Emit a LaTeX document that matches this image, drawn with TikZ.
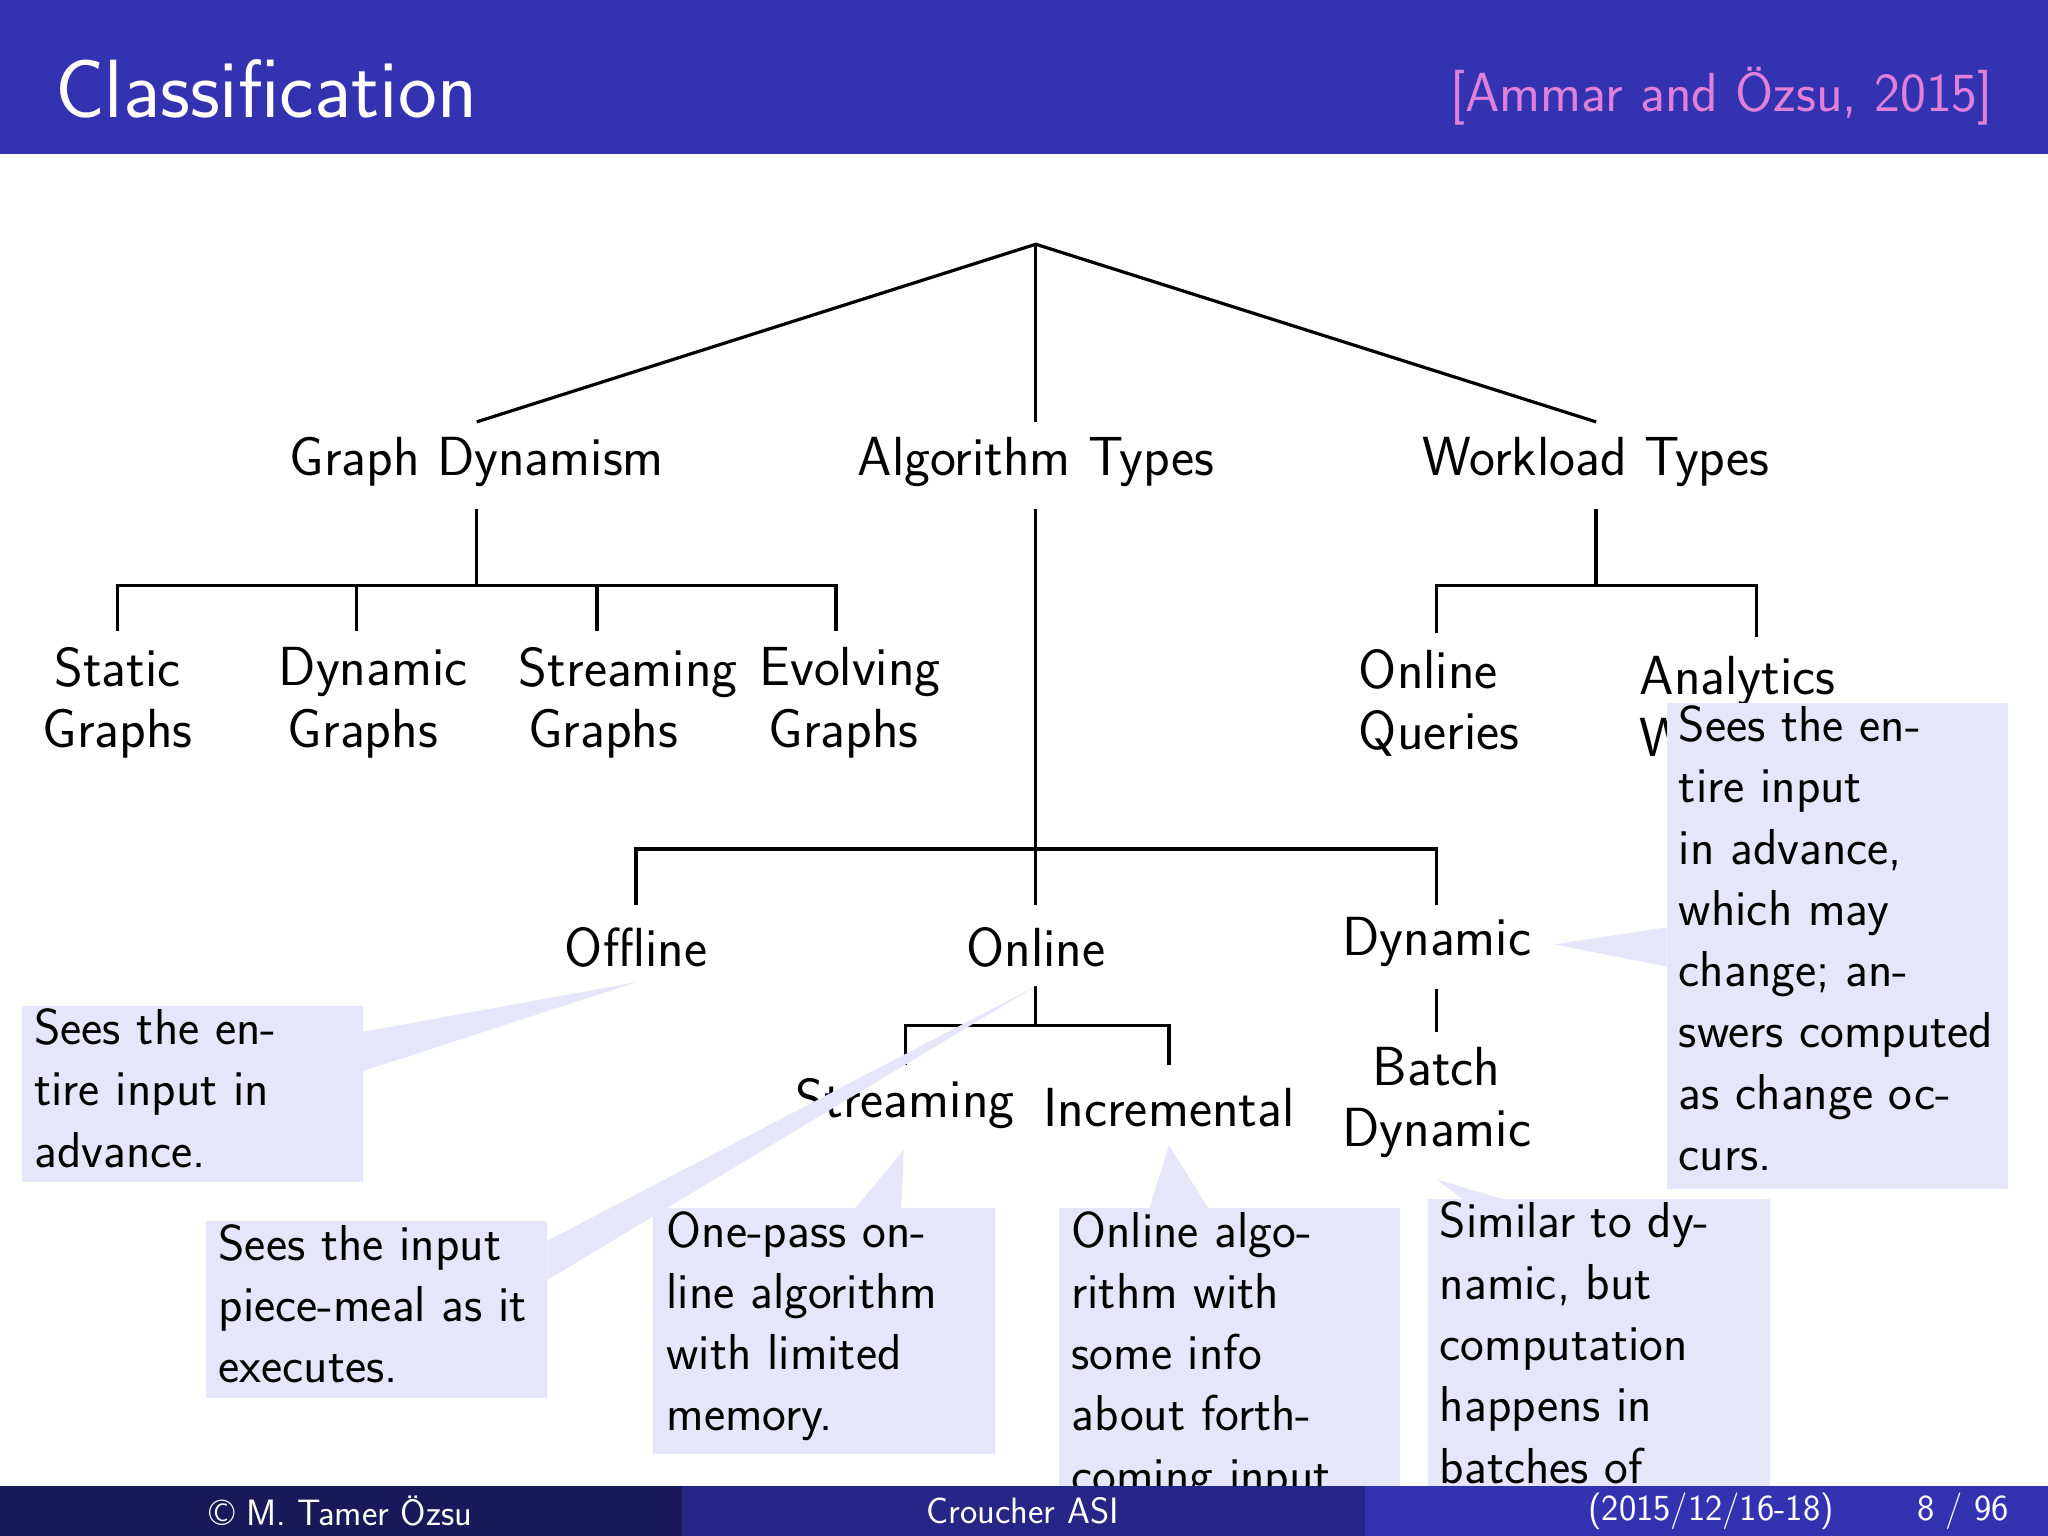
\documentclass[tikz,border=0pt]{standalone}
\usepackage{fontspec}
\begin{document}
\begin{tikzpicture}[x=0.02cm,y=-0.02cm,
  lbl/.style={font=\sffamily\fontsize{24}{26.7}\selectfont,align=center,inner sep=0pt},
  lbll/.style={font=\sffamily\fontsize{24}{26.7}\selectfont,align=left,inner sep=0pt,anchor=west},
  ctext/.style={font=\sffamily\fontsize{22}{26.7}\selectfont,align=left,anchor=north west,inner sep=0pt},
  foot/.style={text=white,font=\sffamily\fontsize{16}{18}\selectfont},
  edge/.style={line width=1.4pt}]
\definecolor{barblue}{HTML}{3333B2}
\definecolor{calfill}{HTML}{E6E6FA}
\definecolor{citepink}{HTML}{E080D8}
\useasboundingbox (0,0) rectangle (1568,1176);
\fill[white] (0,0) rectangle (1568,1176);
\fill[barblue] (0,0) rectangle (1568,118);
\node[anchor=west,text=white,font=\sffamily\fontsize{36}{40}\selectfont] (title) at (36,68) {Classification};
\node[anchor=east,text=citepink,font=\sffamily\fontsize{24}{28}\selectfont] (cite) at (1532,74) {[Ammar and Özsu, 2015]};
% tree
\coordinate (root) at (793,187);
\coordinate (gdT) at (365,323); \coordinate (atT) at (793,323); \coordinate (wtT) at (1222,323);
\draw[edge] (gdT)--(root)--(wtT); \draw[edge] (root)--(atT);
\node[lbl] (gd) at (365,354) {Graph Dynamism};
\node[lbl] (at) at (793,354) {Algorithm Types};
\node[lbl] (wt) at (1222,354) {Workload Types};
\draw[edge] (365,390)--(365,448) (90,483)--(90,448)--(640,448)--(640,483) (273,448)--(273,483) (457,448)--(457,483);
\node[lbl] (sg) at (90,538) {Static\\Graphs};
\node[lbll] (dg) at (213,538) {Dynamic\\\,Graphs};
\node[lbll] (stg) at (397,538) {Streaming\\\,Graphs};
\node[lbll] (eg) at (581,538) {Evolving\\\,Graphs};
\draw[edge] (1222,390)--(1222,448) (1100,485)--(1100,448)--(1345,448)--(1345,488);
\node[lbll] (oq) at (1040,538) {Online\\Queries};
\node[lbll] (aw) at (1255,541) {Analytics\\Workloads};
\draw[edge] (793,390)--(793,650) (487,693)--(487,650)--(1100,650)--(1100,693) (793,650)--(793,693);
\node[lbl] (off) at (487,725) {Offline};
\node[lbl] (onl) at (793,725) {Online};
\node[lbl] (dyn) at (1100,721) {Dynamic};
\draw[edge] (793,755)--(793,785) (693,815)--(693,785)--(895,785)--(895,815);
\node[lbl] (str) at (693,845) {Streaming};
\node[lbl] (inc) at (895,848) {Incremental};
\draw[edge] (1100,757)--(1100,790);
\node[lbl] (bd) at (1100,844) {Batch\\Dynamic};
% callouts
\fill[calfill] (17,770) rectangle (278,905); \fill[calfill] (278,790)--(487,752)--(278,820)--cycle;
\node[ctext] (c1) at (26,772) {Sees the en-\\tire input in\\advance.};
\fill[calfill] (158,935) rectangle (419,1070); \fill[calfill] (419,950)--(793,755)--(419,980)--cycle;
\node[ctext] (c2) at (167,937) {Sees the input\\piece-meal as it\\executes.};
\fill[calfill] (500,925) rectangle (762,1113); \fill[calfill] (655,925)--(692,880)--(690,925)--cycle;
\node[ctext] (c3) at (510,927) {One-pass on-\\line algorithm\\with limited\\memory.};
\fill[calfill] (811,925) rectangle (1072,1160); \fill[calfill] (880,925)--(895,877)--(925,925)--cycle;
\node[ctext] (c4) at (820,927) {Online algo-\\rithm with\\some info\\about forth-\\coming input};
\fill[calfill] (1093,918) rectangle (1355,1160); \fill[calfill] (1120,918)--(1100,903)--(1150,918)--cycle;
\node[ctext] (c5) at (1102,920) {Similar to dy-\\namic, but\\computation\\happens in\\batches of};
\fill[calfill] (1276,538) rectangle (1537,910); \fill[calfill] (1276,710)--(1190,723)--(1276,740)--cycle;
\node[ctext] (c6) at (1285,540) {Sees the en-\\tire input\\in advance,\\which may\\change; an-\\swers computed\\as change oc-\\curs.};
% footer
\fill[barblue!50!black] (0,1138) rectangle (522,1176);
\fill[barblue!75!black] (522,1138) rectangle (1045,1176);
\fill[barblue] (1045,1138) rectangle (1568,1176);
\node[foot] (f1) at (261,1157) {\textcopyright\ M. Tamer Özsu};
\node[foot] (f2) at (783,1157) {Croucher ASI};
\node[foot] (f3) at (1310,1157) {(2015/12/16-18)};
\node[foot] (f4) at (1503,1157) {8 / 96};
\end{tikzpicture}
\end{document}
